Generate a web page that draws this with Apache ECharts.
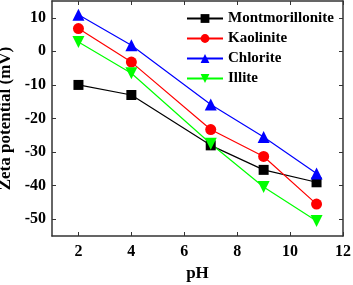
<!DOCTYPE html>
<html>
<head>
<meta charset="UTF-8">
<style>
  html, body { margin:0; padding:0; background:#fff; }
  #chart { width:353px; height:285px; }
</style>
<script src="https://cdn.jsdelivr.net/npm/echarts@6/dist/echarts.min.js"></script>
</head>
<body>
<div id="chart"></div>
<script>
  // data
  const pH = [2, 4, 7, 9, 11];
  const montmorillonite = [-10, -13, -28, -35.3, -39];
  const kaolinite = [6.8, -3.2, -23.3, -31.3, -45.5];
  const chlorite = [10.9, 1.8, -15.8, -25.5, -36.4];
  const illite = [2.8, -6.5, -27.5, -40.4, -50.5];
  const xTicks = [2, 4, 6, 8, 10, 12];
  const yTicks = [-50, -40, -30, -20, -10, 0, 10];

  const font = 'Liberation Serif';
  const axisCol = '#333';

  function pts(ys) { return pH.map((x, i) => [x, ys[i]]); }

  const chart = echarts.init(document.getElementById('chart'));
  chart.setOption({
    animation: false,
    grid: { left: 52, right: 10, top: 1, bottom: 49, outerBoundsMode: 'none', containLabel: false },
    legend: {
      orient: 'vertical',
      left: 181, top: 6,
      itemWidth: 36, itemHeight: 11, itemGap: 5,
      textStyle: { fontFamily: font, fontWeight: 'bold', fontSize: 15, color: '#000' },
      data: ['Montmorillonite', 'Kaolinite', 'Chlorite', 'Illite']
    },
    xAxis: [{
      type: 'value', min: 1, max: 12,
      name: 'pH', nameLocation: 'middle', nameGap: 29,
      nameTextStyle: { fontFamily: font, fontWeight: 'bold', fontSize: 17, color: '#000' },
      axisLine: { show: true, onZero: false, lineStyle: { color: axisCol, width: 1.5 } },
      axisTick: { inside: true, length: 4, customValues: xTicks, lineStyle: { color: axisCol } },
      axisLabel: { customValues: xTicks, fontFamily: font, fontWeight: 'bold', fontSize: 16, color: '#000', margin: 8 },
      splitLine: { show: false }
    }, {
      type: 'value', min: 1, max: 12, position: 'top',
      axisLine: { show: true, onZero: false, lineStyle: { color: axisCol, width: 1.5 } },
      axisTick: { inside: true, length: 4, customValues: xTicks, lineStyle: { color: axisCol } },
      axisLabel: { show: false },
      splitLine: { show: false }
    }],
    yAxis: [{
      type: 'value', min: -55, max: 15,
      name: 'Zeta potential (mV)', nameLocation: 'middle', nameGap: 37,
      nameTextStyle: { fontFamily: font, fontWeight: 'bold', fontSize: 17, color: '#000' },
      axisLine: { show: true, onZero: false, lineStyle: { color: axisCol, width: 1.5 } },
      axisTick: { inside: true, length: 4, customValues: yTicks, lineStyle: { color: axisCol } },
      axisLabel: { customValues: yTicks, fontFamily: font, fontWeight: 'bold', fontSize: 16, color: '#000', margin: 6 },
      splitLine: { show: false }
    }, {
      type: 'value', min: -55, max: 15, position: 'right',
      axisLine: { show: true, onZero: false, lineStyle: { color: axisCol, width: 1.5 } },
      axisTick: { inside: true, length: 4, customValues: yTicks, lineStyle: { color: axisCol } },
      axisLabel: { show: false },
      splitLine: { show: false }
    }],
    series: [
      { name: 'Montmorillonite', type: 'line', data: pts(montmorillonite), symbol: 'rect', symbolSize: 10,
        color: '#000000', lineStyle: { width: 1.2 } },
      { name: 'Kaolinite', type: 'line', data: pts(kaolinite), symbol: 'circle', symbolSize: 11,
        color: '#ff0000', lineStyle: { width: 1.2 } },
      { name: 'Chlorite', type: 'line', data: pts(chlorite), symbol: 'triangle', symbolSize: 12,
        color: '#0000ff', lineStyle: { width: 1.2 } },
      { name: 'Illite', type: 'line', data: pts(illite), symbol: 'triangle', symbolRotate: 180, symbolSize: 12,
        color: '#00ff00', lineStyle: { width: 1.2 } }
    ]
  });
</script>
</body>
</html>
